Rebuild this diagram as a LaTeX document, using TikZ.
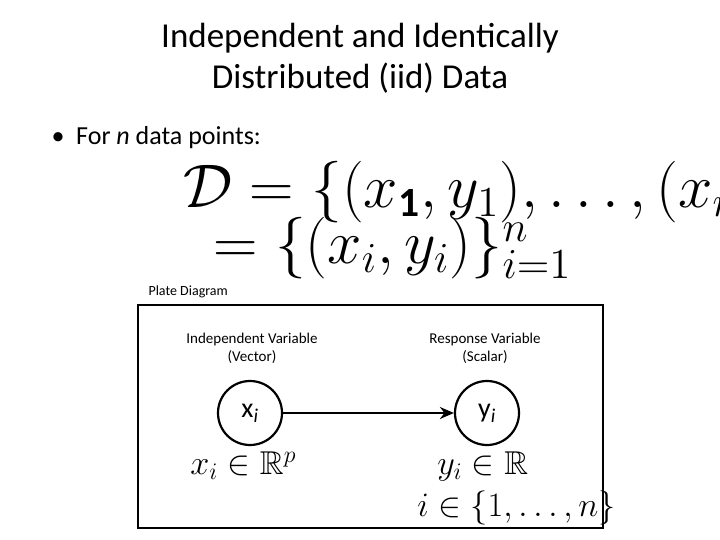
\documentclass[tikz,border=0pt]{standalone}
\usepackage{amsmath,amssymb}
\usepackage{fontspec}
\setmainfont{Carlito}
\usetikzlibrary{arrows.meta}
\begin{document}
\begin{tikzpicture}[x=1pt,y=-1pt,
  rv/.style={circle,draw,line width=2.2pt,minimum size=64pt,inner sep=0pt,font=\fontsize{28}{30}\selectfont},
  lbl/.style={font=\fontsize{15}{18}\selectfont,align=center},
  mth/.style={font=\fontsize{20}{24}\selectfont,anchor=west,inner sep=0pt,scale=1.65},
  bigm/.style={mth,scale=1.8}]
\useasboundingbox (0,0) rectangle (720,540);
\node[font=\fontsize{35}{41}\selectfont,align=center] (title) at (360,58) {Independent and Identically\\Distributed (iid) Data};
\node[font=\fontsize{26}{30}\selectfont,anchor=west] (bullet) at (48,138) {\textbullet\ \ For \textit{n} data points:};
\node[bigm] (eq1) at (183,192) {$\mathcal{D}=\{(x_{\mathbf{1}},y_1),\ldots,(x_n,y_n)\}$};
\node[bigm] (eq2) at (213,248) {$=\{(x_i,y_i)\}_{i=1}^{n}$};
\node[font=\fontsize{14}{16}\selectfont,anchor=west] (pd) at (145,292) {Plate Diagram};
\draw[line width=2.5pt] (138,305) rectangle (603,528);
\node[lbl] (l1) at (252,348) {Independent Variable\\(Vector)};
\node[lbl] (l2) at (485,348) {Response Variable\\(Scalar)};
\node[rv] (x) at (250,413) {x$_{\textit{i}}$};
\node[rv] (y) at (487,413) {y$_{\textit{i}}$};
\draw[line width=2pt,-{Stealth[length=14pt,width=12pt]}] (x) -- (y);
\node[mth] (xr) at (190,466) {$x_i\in\mathbb{R}^p$};
\node[mth] (yr) at (437,466) {$y_i\in\mathbb{R}$};
\node[mth] (ir) at (417,508) {$i\in\{1,\ldots,n\}$};
\end{tikzpicture}
\end{document}
